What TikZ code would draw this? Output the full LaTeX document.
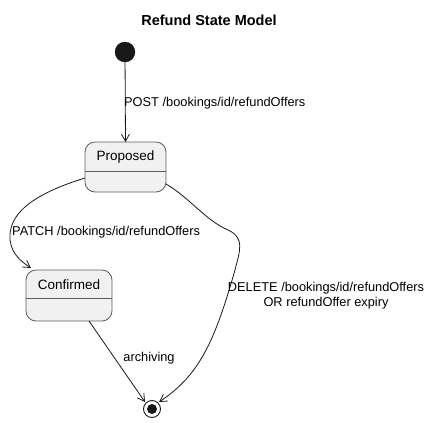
\documentclass[tikz,border=0pt]{standalone}
\usepackage{fontspec}
\setmainfont{Liberation Sans}
\usetikzlibrary{arrows.meta}
\definecolor{lc}{HTML}{181818}
\definecolor{sf}{HTML}{F1F1F1}
\tikzset{
  conn/.style={draw=lc, line width=0.8pt, -{Straight Barb[length=7pt,width=8pt]}},
  lbl/.style={font=\fontsize{12.8}{15}\selectfont, inner sep=0pt, text=black},
  stbox/.style={draw=lc!70, fill=sf, rounded corners=10pt, line width=0.8pt}
}
\begin{document}
\begin{tikzpicture}[x=1pt,y=-1pt]
\useasboundingbox (0,0) rectangle (432,423);
\node[font=\fontsize{14.5}{16}\selectfont\bfseries] (title) at (209,20) {Refund State Model};
% start
\node[circle, fill=lc, draw=lc, minimum size=20pt, inner sep=0pt] (start) at (125,52) {};
% Proposed
\draw[stbox] (85,142) rectangle (166,192);
\draw[lc!70, line width=0.8pt] (85,171) -- (166,171);
\node[lbl, font=\fontsize{13.5}{15}\selectfont] (prop) at (125.5,157) {Proposed};
\coordinate (propT) at (125.5,142);
\coordinate (propL) at (85,178);
\coordinate (propR) at (166,184);
% Confirmed
\draw[stbox] (26,270) rectangle (112,321);
\draw[lc!70, line width=0.8pt] (26,298) -- (112,298);
\node[lbl, font=\fontsize{13.5}{15}\selectfont] (conf) at (69,285) {Confirmed};
\coordinate (confTL) at (31,268);
\coordinate (confB) at (89,321);
% end
\node[circle, draw=lc, line width=0.9pt, fill=white, minimum size=17pt, inner sep=0pt] (end) at (152,409) {};
\node[circle, fill=lc, minimum size=10pt, inner sep=0pt] (endin) at (152,409) {};
\coordinate (endL) at (145,402);
\coordinate (endR) at (159,402);
% edges
\draw[conn] (start) -- (propT);
\node[lbl, anchor=west] (l1) at (124,103) {POST /bookings/id/refundOffers};
\draw[conn] (propL) .. controls (30,195) and (8,215) .. (10,240) .. controls (12,255) and (22,262) .. (confTL);
\node[lbl, anchor=west] (l2) at (12,232) {PATCH /bookings/id/refundOffers};
\draw[conn] (propR) .. controls (190,198) and (205,220) .. (228,230) .. controls (245,238) and (240,250) .. (235,270) .. controls (215,340) and (200,375) .. (endR);
\node[lbl, align=center] (l3) at (326,296) {DELETE /bookings/id/refundOffers\\OR refundOffer expiry};
\draw[conn] (confB) -- (endL);
\node[lbl] (l4) at (149,358) {archiving};
\end{tikzpicture}
\end{document}
